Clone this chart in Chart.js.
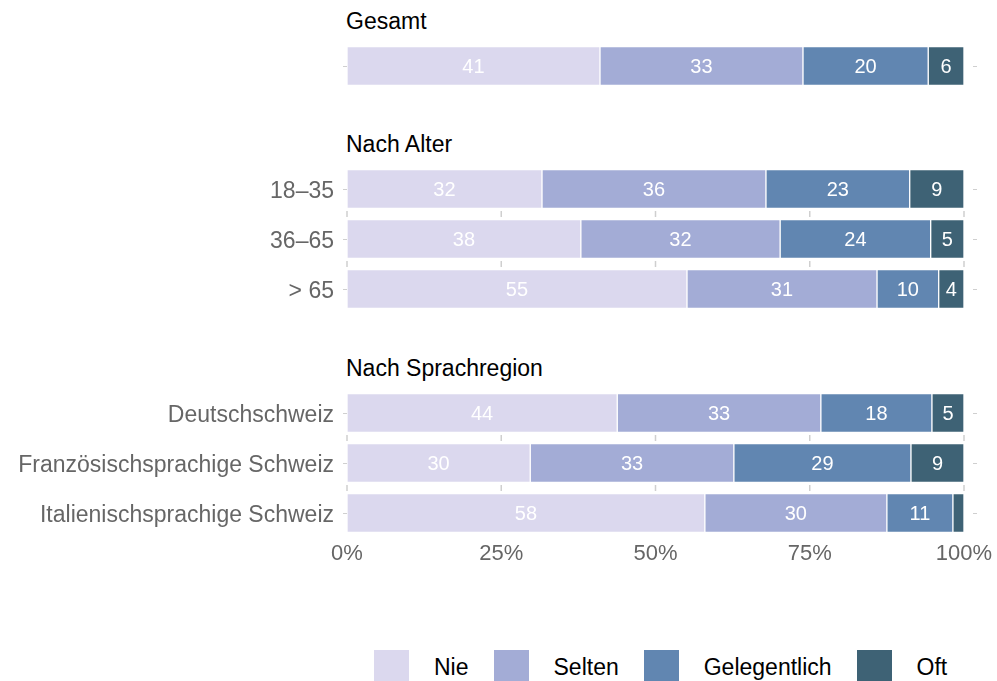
<!DOCTYPE html>
<html><head><meta charset="utf-8">
<script src="https://cdn.jsdelivr.net/npm/chart.js@4.4.0/dist/chart.umd.min.js"></script>
<style>
html,body{margin:0;padding:0;background:#fff;}
body{width:997px;height:681px;overflow:hidden;position:relative;font-family:"Liberation Sans",Arial,sans-serif;}
.title{position:absolute;left:346px;font-size:23px;color:#000;line-height:1;white-space:nowrap;}
canvas{position:absolute;left:0;}
#legend{position:absolute;left:374px;top:650px;height:35px;display:flex;align-items:center;font-size:23px;color:#000;}
#legend .sw{width:35px;height:35px;margin-right:25px;}
#legend .tx{margin-right:25px;white-space:nowrap;}
</style></head><body>
<div class="title" id="t0" style="top:9.5px"></div>
<div class="title" id="t1" style="top:132.5px"></div>
<div class="title" id="t2" style="top:356.5px"></div>
<canvas id="c0" width="997" height="50" style="top:41px"></canvas>
<canvas id="c1" width="997" height="150" style="top:164px"></canvas>
<canvas id="c2" width="997" height="180" style="top:388px"></canvas>
<div id="legend"></div>
<script>
// ---- data ----
const seriesNames = ['Nie', 'Selten', 'Gelegentlich', 'Oft'];
const seriesColors = ['#dbd8ee', '#a3acd6', '#6186b1', '#3e6275'];
const sectionTitles = ['Gesamt', 'Nach Alter', 'Nach Sprachregion'];
const gesamtCategories = [''];
const alterCategories = ['18–35', '36–65', '> 65'];
const regionCategories = ['Deutschschweiz', 'Französischsprachige Schweiz', 'Italienischsprachige Schweiz'];
// rows: Gesamt, 18–35, 36–65, > 65, Deutschschweiz, Französisch, Italienisch
const nie          = [41,   31.6, 37.9, 55.1, 43.8, 29.7, 58];
const selten       = [32.9, 36.3, 32.3, 30.8, 33.0, 33.0, 29.5];
const gelegentlich = [20.3, 23.3, 24.4, 10.0, 18.0, 28.7, 10.7];
const oft          = [5.8,  8.8,  5.4,  4.1,  5.2,  8.6,  1.8];
const xTicks = [0, 25, 50, 75, 100];

const series = [nie, selten, gelegentlich, oft];
const FONT = '"Liberation Sans", Arial, sans-serif';

const decor = {
  id: 'decor',
  beforeDatasetsDraw(chart) {
    const ctx = chart.ctx, xs = chart.scales.x, ys = chart.scales.y;
    const n = chart.data.labels.length;
    ctx.save();
    ctx.strokeStyle = '#cfcfcf';
    ctx.lineWidth = 1.5;
    for (let i = 0; i < n - 1; i++) {
      const mid = (ys.getPixelForValue(i) + ys.getPixelForValue(i + 1)) / 2;
      xTicks.forEach(v => {
        const x = xs.getPixelForValue(v);
        ctx.beginPath(); ctx.moveTo(x, mid - 3); ctx.lineTo(x, mid + 3); ctx.stroke();
      });
    }
    ctx.lineWidth = 1;
    for (let i = 0; i < n; i++) {
      const y = Math.round(ys.getPixelForValue(i)) + 0.5;
      ctx.beginPath(); ctx.moveTo(xs.left - 4, y); ctx.lineTo(xs.left, y); ctx.stroke();
      ctx.beginPath(); ctx.moveTo(xs.right + 9, y); ctx.lineTo(xs.right + 13, y); ctx.stroke();
    }
    ctx.restore();
  },
  afterDatasetsDraw(chart) {
    const ctx = chart.ctx;
    ctx.save();
    ctx.fillStyle = '#ffffff';
    ctx.font = '20px ' + FONT;
    ctx.textAlign = 'center';
    ctx.textBaseline = 'middle';
    chart.data.datasets.forEach((ds, di) => {
      const meta = chart.getDatasetMeta(di);
      meta.data.forEach((bar, i) => {
        const v = ds.data[i];
        if (v < 3) return;
        const cx = (bar.x + bar.base) / 2;
        ctx.fillText(String(Math.round(v)), cx, bar.y + 1);
      });
    });
    ctx.restore();
  }
};

function makePanel(id, labels, start, showX) {
  const datasets = seriesNames.map((name, k) => ({
    label: name,
    data: series[k].slice(start, start + labels.length),
    backgroundColor: seriesColors[k],
    borderColor: '#ffffff',
    borderWidth: 1,
    borderSkipped: false,
    barThickness: 39
  }));
  return new Chart(document.getElementById(id), {
    type: 'bar',
    data: { labels: labels, datasets: datasets },
    options: {
      indexAxis: 'y',
      responsive: false,
      animation: false,
      devicePixelRatio: 1,
      layout: { padding: { left: 0, right: 33, top: 0, bottom: 0 } },
      plugins: { legend: { display: false }, tooltip: { enabled: false } },
      scales: {
        x: {
          stacked: true, min: 0, max: 100, display: showX,
          grid: { display: false, drawTicks: false },
          border: { display: false },
          afterBuildTicks(s) { s.ticks = xTicks.map(v => ({ value: v })); },
          ticks: { callback: v => v + '%', color: '#666666', font: { size: 22, family: FONT }, padding: 3, maxRotation: 0, autoSkip: false },
          afterFit(s) { s.height = showX ? 30 : 0; }
        },
        y: {
          stacked: true,
          grid: { display: false, drawTicks: false },
          border: { display: false },
          ticks: { color: '#666666', font: { size: 23, family: FONT }, padding: 13, labelOffset: 3 },
          afterFit(s) { s.width = 347; s.paddingTop = 0; s.paddingBottom = 0; }
        }
      }
    },
    plugins: [decor]
  });
}

['t0', 't1', 't2'].forEach((id, i) => { document.getElementById(id).textContent = sectionTitles[i]; });
makePanel('c0', gesamtCategories, 0, false);
makePanel('c1', alterCategories, 1, false);
makePanel('c2', regionCategories, 4, true);

const lg = document.getElementById('legend');
seriesNames.forEach((name, k) => {
  const sw = document.createElement('div'); sw.className = 'sw'; sw.style.background = seriesColors[k];
  const tx = document.createElement('div'); tx.className = 'tx'; tx.textContent = name;
  lg.appendChild(sw); lg.appendChild(tx);
});
</script>
</body></html>
